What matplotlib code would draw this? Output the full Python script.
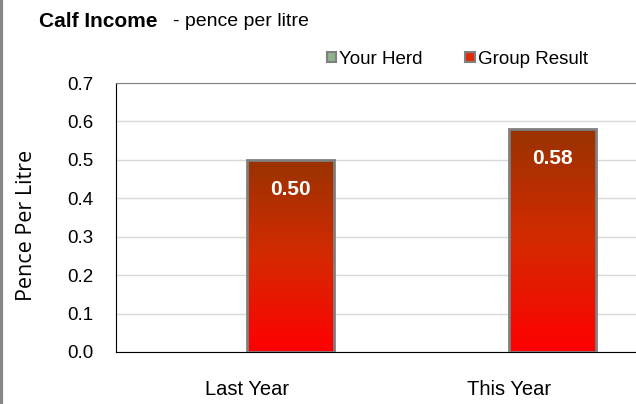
import numpy as np
import matplotlib
matplotlib.use('Agg')
import matplotlib.pyplot as plt
from matplotlib.patches import Patch
from matplotlib.colors import LinearSegmentedColormap
from matplotlib.lines import Line2D

plt.rcParams['font.family'] = ['Liberation Sans', 'DejaVu Sans']

categories = ['Last Year', 'This Year']
your_herd = [0.0, 0.0]          # no data for your herd
group_result = [0.50, 0.58]
y_ticks = [0.0, 0.1, 0.2, 0.3, 0.4, 0.5, 0.6, 0.7]

fig = plt.figure(figsize=(6.36, 4.04), dpi=100)
ax = fig.add_axes([116 / 636, 52 / 404, 524 / 636, 269 / 404])

x = np.arange(len(categories))
w = 0.332
herd_bars = ax.bar(x - w, your_herd, w, align='edge', color='#9BBB59', edgecolor='none')
bars = ax.bar(x, group_result, w, align='edge', color='none', edgecolor='#7F7F7F',
              linewidth=2, zorder=3)

# gradient fill: dark brown at top, bright red at bottom
cmap = LinearSegmentedColormap.from_list('grp', ['#FF0000', '#D42A00', '#993300'])
grad = np.linspace(0, 1, 256).reshape(-1, 1)
for b in bars:
    x0, y0, bw, bh = b.get_x(), b.get_y(), b.get_width(), b.get_height()
    im = ax.imshow(grad, extent=[x0, x0 + bw, y0, y0 + bh], origin='lower',
                   cmap=cmap, aspect='auto', zorder=2)
    im.set_clip_path(b)

for b, v in zip(bars, group_result):
    ax.annotate(f'{v:.2f}', (b.get_x() + b.get_width() / 2, v), xytext=(0, -21),
                textcoords='offset points', ha='center', va='center',
                color='white', fontsize=15, fontweight='bold', zorder=4)

ax.set_xlim(-0.5, 1.5)
ax.set_ylim(0, 0.7)
ax.set_yticks(y_ticks)
ax.set_yticklabels([f'{t:.1f}' for t in y_ticks])
ax.set_xticks(x)
ax.set_xticklabels(categories)
ax.tick_params(axis='y', length=0, pad=16, labelsize=13.5)
ax.tick_params(axis='x', length=0, pad=20, labelsize=14.5)
ax.grid(axis='y', color='#D9D9D9', linewidth=1)
ax.set_axisbelow(True)
ax.spines['top'].set_color('#808080')
ax.spines['right'].set_visible(False)
ax.spines['left'].set_color('black')
ax.spines['bottom'].set_color('black')

ax.set_ylabel('Pence Per Litre', fontsize=15.5, family=['Open Sans', 'DejaVu Sans'])
ax.yaxis.set_label_coords(-0.15, 0.472)

fig.text(39 / 636, 1 - 21.5 / 404, 'Calf Income', fontsize=15, fontweight='bold', va='center')
fig.text(173 / 636, 1 - 21.5 / 404, '- pence per litre', fontsize=14, va='center')

handles = [Patch(facecolor='#8DB48D', edgecolor='#808080', linewidth=1.5),
           Patch(facecolor='#E02A08', edgecolor='#808080', linewidth=1.5)]
fig.legend(handles, ['Your Herd', 'Group Result'], loc='center',
           bbox_to_anchor=(457 / 636, 1 - 59 / 404), ncol=2, frameon=False,
           handlelength=0.5, handleheight=0.5, handletextpad=0.15,
           columnspacing=2.3, fontsize=13.5)

fig.add_artist(Line2D([0.002, 0.002], [0, 1], transform=fig.transFigure,
                      color='#868686', linewidth=3))

fig.savefig('out.png', dpi=100)
